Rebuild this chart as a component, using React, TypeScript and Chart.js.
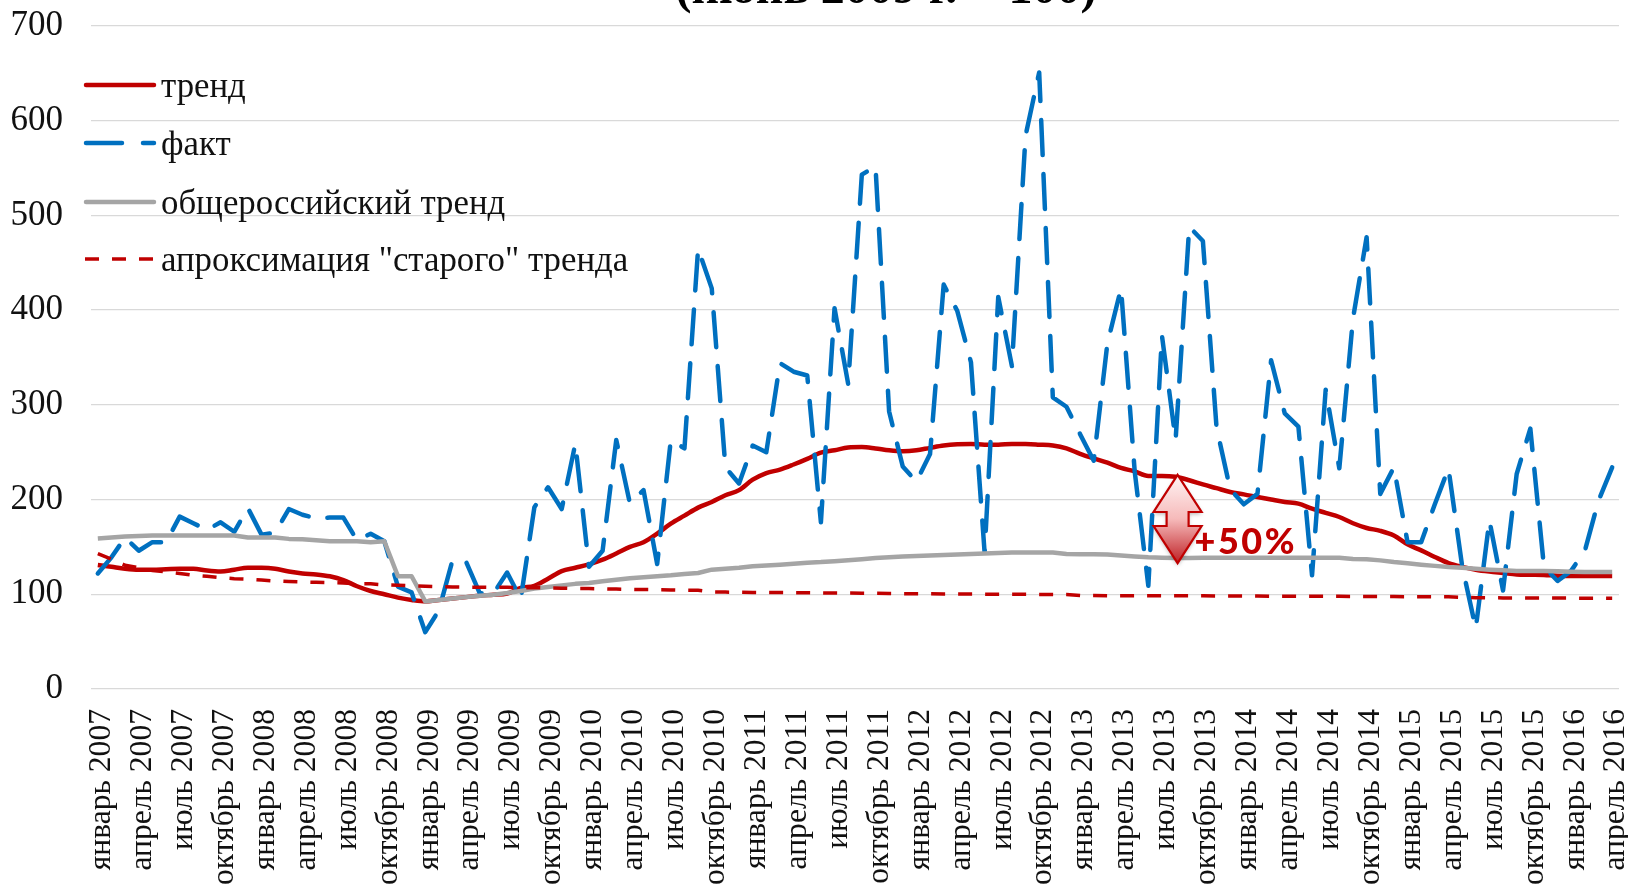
import React, { useEffect, useRef } from "react";
import { Chart, registerables } from "chart.js";

Chart.register(...registerables);

const TITLE = "(июнь 2009 г. = 100)";
const NOTE = "+50%";
const MONTHS = ["январь", "февраль", "март", "апрель", "май", "июнь", "июль", "август", "сентябрь", "октябрь", "ноябрь", "декабрь"];
const YEARS = [2007, 2008, 2009, 2010, 2011, 2012, 2013, 2014, 2015, 2016];
const LAST_YEAR_MONTHS = 4;
const categories: string[] = YEARS.flatMap((y, n) =>
  (n === YEARS.length - 1 ? MONTHS.slice(0, LAST_YEAR_MONTHS) : MONTHS).map((m) => `${m} ${y}`)
);

const trend = [
  131, 129, 127, 126, 126, 126.5, 127, 127, 125, 124, 126, 128, 128, 127, 124, 122, 121, 119, 115, 108.5,
  103.5, 100, 96.5, 94, 92.5, 94, 95.5, 97, 98.5, 99.5, 100.7, 106.6, 109, 116.5, 124.5, 128, 131.6, 136.5, 143, 150,
  155, 164, 174.5, 183, 191.5, 197.5, 204.5, 210, 221, 228, 231.6, 237, 243, 249.5, 252, 255, 255.5, 254, 252, 251,
  252, 254.6, 257, 258.3, 258.7, 258, 258, 258.7, 258.7, 258, 257, 254, 248.3, 243.5, 239, 233.4, 229.7, 225, 225, 224,
  220.4, 216, 212, 208, 205.5, 202.7, 200, 197.4, 195.7, 190.4, 186, 181.6, 175, 170, 167, 162, 152.7, 146.4, 139.4, 133,
  129, 126, 124, 122.5, 121, 120.7, 120.4, 119.6, 119.3, 119.3, 119.3, 119.3,
];
const fact = [
  122, 139, 160, 146, 155, 155, 182, 175, 168, 176, 166, 191, 163, 165, 190, 184, 180, 181, 181, 157,
  164, 156, 108, 102, 60, 83, 136, 134, 101, 101, 123, 95, 192, 213, 190, 259, 129, 146, 263, 196,
  210, 132, 263, 254, 465, 423, 234, 217, 257, 250, 344, 335, 331, 176, 402, 322, 543, 552, 293, 235,
  219, 248, 427, 399, 345, 144, 414, 341, 584, 651, 308, 298, 269, 241, 365, 423, 230, 109, 373, 263,
  488, 473, 276, 211, 195, 206, 347, 291, 277, 120, 316, 233, 391, 477, 206, 234, 155, 155, 195, 233,
  130, 64, 178, 104, 227, 275, 129, 114, 125, 146, 199, 234,
];
const russiaTrend = [
  159, 160, 161, 161.5, 162, 162, 162, 162, 162, 162, 162, 160, 160, 160, 158.5, 158, 157, 156, 156, 156,
  155, 156, 119, 119, 92.5, 94, 95.5, 97, 98.5, 99.5, 101.3, 103.5, 106, 107.7, 109.4, 111, 112, 113.7, 115.4, 117,
  118, 119, 120, 121.4, 122.5, 126, 127, 128, 129.5, 130.5, 131.3, 132.3, 133.4, 134, 135, 136, 137, 138.3, 139, 140,
  140.5, 141, 141.5, 142, 142.5, 143, 143.5, 144, 144, 144, 144, 142.5, 142.3, 142.3, 142, 141, 140, 139, 138.7, 138.3,
  138.3, 138.5, 138.5, 138.5, 138.5, 138.5, 138.5, 138.5, 138.5, 138.5, 138.5, 138.6, 137.3, 137, 135.8, 134, 132.7, 131.3, 130, 128.8,
  128, 127, 126, 125.3, 124.6, 124.6, 124.6, 124.2, 123.9, 123.5, 123.5, 123.5,
];
const oldTrend = [
  143, 137, 130.6, 128, 125, 123.6, 122, 120, 119, 117.6, 116.5, 116, 115, 114, 113.4, 113, 112.7, 112.3, 112, 111,
  111, 110, 109.5, 109, 108.5, 108, 107.8, 107.6, 107.5, 107.4, 107.3, 107, 107, 106.7, 106.5, 106, 106, 105.8, 105.5, 105.2,
  105, 104.8, 104.6, 104.4, 104.2, 102.5, 102.3, 102.2, 102, 101.9, 101.8, 101.7, 101.6, 101.5, 101.4, 101.3, 101.2, 101, 100.8, 100.7,
  100.6, 100.5, 100.4, 100.3, 100.2, 100.1, 100, 100, 100, 99.9, 99.8, 99.7, 98.6, 98.6, 98.5, 98.5, 98.5, 98.5, 98.4, 98.4,
  98.4, 98.4, 98.3, 98.3, 98.2, 98.1, 98, 98, 97.9, 97.9, 97.8, 97.8, 97.7, 97.7, 97.6, 97.6, 97.5, 97.5, 97.4, 97.3,
  96.8, 96.4, 96.3, 96.2, 96.2, 96.1, 96.1, 96, 96, 95.9, 95.9, 95.8,
];
const yTicks = [0, 100, 200, 300, 400, 500, 600, 700];
const GAP_INDEX = 79;
const GAP_TOP = 224;
const GAP_BOTTOM = 135;

const SERIF = '"Liberation Serif"';
const RED = "#C00000";
const BLUE = "#0070C0";
const GRAY = "#A5A5A5";

const noPad = (s: any) => {
  s.paddingTop = 0;
  s.paddingBottom = 0;
  s.paddingLeft = 0;
  s.paddingRight = 0;
};

const overlay = {
  id: "overlay",
  afterDraw(chart: any) {
    const { ctx, scales } = chart;
    ctx.save();
    // title, cut by the top of the page
    ctx.fillStyle = "#000";
    ctx.font = `bold 48px ${SERIF}`;
    ctx.textAlign = "center";
    ctx.textBaseline = "alphabetic";
    ctx.fillText(TITLE, 886, 3);

    // legend
    const rows = [0, 1, 2, 3].map((i) => ({ ds: chart.data.datasets[i], y: [85, 143, 202, 259][i] }));
    rows.forEach(({ ds, y }, i) => {
      ctx.save();
      ctx.strokeStyle = ds.borderColor;
      ctx.lineWidth = ds.borderWidth;
      ctx.lineCap = i === 3 ? "butt" : "round";
      ctx.setLineDash(i === 1 ? [36, 21] : i === 3 ? [14, 13] : []);
      ctx.beginPath();
      ctx.moveTo(i === 3 ? 85 : 86, y);
      ctx.lineTo(154, y);
      ctx.stroke();
      ctx.restore();
      ctx.fillStyle = "#111";
      ctx.font = `34.8px ${SERIF}`;
      ctx.textAlign = "left";
      ctx.textBaseline = "alphabetic";
      ctx.fillText(ds.label, 161, y + 11.5);
    });

    // gap arrow
    const cx = scales.x.getPixelForValue(GAP_INDEX) + 2;
    const top = scales.y.getPixelForValue(GAP_TOP) - 2;
    const bottom = scales.y.getPixelForValue(GAP_BOTTOM) + 2;
    const mid = (top + bottom) / 2;
    const g = ctx.createLinearGradient(0, top, 0, bottom);
    g.addColorStop(0, "#FFF4F4");
    g.addColorStop(0.5, "#F6BABA");
    g.addColorStop(1, "#BE2025");
    ctx.save();
    ctx.shadowColor = "rgba(0,0,0,0.3)";
    ctx.shadowBlur = 4;
    ctx.shadowOffsetY = 2;
    ctx.beginPath();
    ctx.moveTo(cx, top);
    ctx.lineTo(cx + 24, mid - 7);
    ctx.lineTo(cx + 11, mid - 7);
    ctx.lineTo(cx + 11, mid + 7);
    ctx.lineTo(cx + 24, mid + 7);
    ctx.lineTo(cx, bottom);
    ctx.lineTo(cx - 24, mid + 7);
    ctx.lineTo(cx - 11, mid + 7);
    ctx.lineTo(cx - 11, mid - 7);
    ctx.lineTo(cx - 24, mid - 7);
    ctx.closePath();
    ctx.fillStyle = g;
    ctx.fill();
    ctx.shadowColor = "transparent";
    ctx.strokeStyle = RED;
    ctx.lineWidth = 2.2;
    ctx.stroke();
    ctx.restore();

    ctx.fillStyle = RED;
    ctx.font = "900 36px Lato";
    (ctx as any).letterSpacing = "2.5px";
    ctx.textAlign = "left";
    ctx.textBaseline = "alphabetic";
    ctx.fillText(NOTE, cx + 17, 554);
    (ctx as any).letterSpacing = "0px";
    ctx.restore();
  },
};

export default function App() {
  const ref = useRef<HTMLCanvasElement>(null);
  useEffect(() => {
    document.body.style.margin = "0";
    document.body.style.overflow = "hidden";
    const chart = new Chart(ref.current!, {
      type: "line",
      data: {
        labels: categories,
        datasets: [
          { label: "тренд", data: trend, borderColor: RED, borderWidth: 4.5, borderJoinStyle: "round", pointRadius: 0, order: 4, cubicInterpolationMode: "monotone" },
          { label: "факт", data: fact, borderColor: BLUE, borderWidth: 4.5, borderDash: [35, 19], borderCapStyle: "round", borderJoinStyle: "round", pointRadius: 0, order: 3 },
          { label: "общероссийский тренд", data: russiaTrend, borderColor: GRAY, borderWidth: 4.5, borderJoinStyle: "round", pointRadius: 0, order: 2 },
          { label: 'апроксимация "старого" тренда', data: oldTrend, borderColor: RED, borderWidth: 3.5, borderDash: [14, 13], pointRadius: 0, order: 1 },
        ],
      },
      options: {
        animation: false,
        responsive: false,
        layout: { autoPadding: false, padding: { top: 26, right: 9, left: 0, bottom: 0 } },
        plugins: { legend: { display: false }, title: { display: false }, tooltip: { enabled: false } },
        scales: {
          x: {
            type: "category",
            offset: true,
            grid: { display: false },
            border: { display: false },
            afterFit: (s: any) => { s.height = 196; noPad(s); },
            ticks: {
              autoSkip: false,
              minRotation: 90,
              maxRotation: 90,
              padding: 12,
              labelOffset: 4,
              color: "#111",
              font: { family: SERIF, size: 31.6 },
              callback: (_v: any, i: number) => (i % 3 === 0 ? categories[i] : null),
            },
          },
          y: {
            min: 0,
            max: 700,
            afterFit: (s: any) => { s.width = 91; noPad(s); },
            afterBuildTicks: (s: any) => { s.ticks = yTicks.map((value) => ({ value })); },
            grid: { color: "#D9D9D9", lineWidth: 1.3, drawTicks: false },
            border: { display: false },
            ticks: { padding: 28, color: "#111", font: { family: SERIF, size: 35 } },
          },
        },
      },
      plugins: [overlay],
    } as any);
    return () => chart.destroy();
  }, []);
  return (
    <div style={{ position: "fixed", left: 0, top: 0, width: 1628, height: 885, overflow: "hidden", background: "#fff" }}>
      <canvas ref={ref} width={1628} height={885} style={{ display: "block", width: 1628, height: 885 }} />
    </div>
  );
}
